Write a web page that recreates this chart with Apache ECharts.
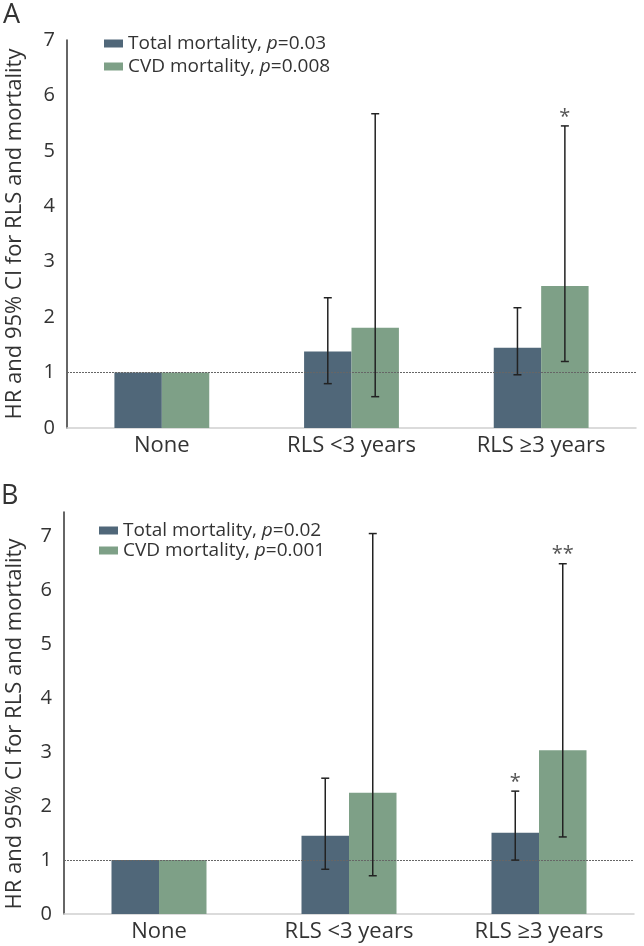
<!DOCTYPE html>
<html>
<head>
<meta charset="utf-8">
<script src="https://cdn.jsdelivr.net/npm/echarts@6/dist/echarts.min.js"></script>
<style>
html,body{margin:0;padding:0;background:#fff;}
#chart{width:644px;height:946px;}
</style>
</head>
<body>
<div id="chart"></div>
<script>
// ---------- data ----------
const categories = ['None', 'RLS <3 years', 'RLS \u22653 years'];
const yTicks = [0, 1, 2, 3, 4, 5, 6, 7];

const namesA = ['Total mortality, p=0.03', 'CVD mortality, p=0.008'];
const hrTotalA = [1, 1.38, 1.45];
const hrCvdA = [1, 1.81, 2.56];
const ciLowTotalA = [null, 0.80, 0.96];
const ciHighTotalA = [null, 2.35, 2.17];
const ciLowCvdA = [null, 0.565, 1.20];
const ciHighCvdA = [null, 5.67, 5.45];
const starsTotalA = ['', '', ''];
const starsCvdA = ['', '', '*'];

const namesB = ['Total mortality, p=0.02', 'CVD mortality, p=0.001'];
const hrTotalB = [1, 1.45, 1.51];
const hrCvdB = [1, 2.25, 3.04];
const ciLowTotalB = [null, 0.83, 1.00];
const ciHighTotalB = [null, 2.52, 2.28];
const ciLowCvdB = [null, 0.71, 1.43];
const ciHighCvdB = [null, 7.06, 6.50];
const starsTotalB = ['', '', '*'];
const starsCvdB = ['', '', '**'];

const refLine = 1;
const yTitle = 'HR and 95% CI for RLS and mortality';

// ---------- styles ----------
const FONT = 'Open Sans';
const TXT = '#333';
const C_TOTAL = '#506779';
const C_CVD = '#7ea087';

function ciData(lows, highs, stars) {
  const out = [];
  for (let i = 0; i < categories.length; i++) {
    if (lows[i] != null && highs[i] != null) out.push([i, lows[i], highs[i], stars[i]]);
  }
  return out;
}

function errRender(sign) {
  return function (params, api) {
    const cat = api.value(0);
    const lo = api.value(1), hi = api.value(2);
    const star = api.value(3);
    const band = api.size([1, 0])[0];
    const x = api.coord([cat, 0])[0] + sign * band * 0.125;
    const yl = api.coord([cat, lo])[1];
    const yh = api.coord([cat, hi])[1];
    const st = { stroke: '#222', lineWidth: 1.5 };
    const cw = 4;
    const children = [
      { type: 'line', shape: { x1: x, y1: yl, x2: x, y2: yh }, style: st },
      { type: 'line', shape: { x1: x - cw, y1: yh, x2: x + cw, y2: yh }, style: st },
      { type: 'line', shape: { x1: x - cw, y1: yl, x2: x + cw, y2: yl }, style: st }
    ];
    if (star) {
      children.push({
        type: 'text',
        style: {
          text: star, x: x, y: yh + 1, textAlign: 'center', textVerticalAlign: 'bottom',
          font: '20px "' + FONT + '"', fill: '#555'
        }
      });
    }
    return { type: 'group', children: children };
  };
}

function legendFmt(name) {
  const parts = name.split(', p');
  return '{n|' + parts[0] + ', }{i|p}{n|' + parts[1] + '}';
}

const legendRich = {
  n: { fontFamily: FONT, fontSize: 19, color: TXT, lineHeight: 20 },
  i: { fontFamily: FONT, fontSize: 19, color: TXT, fontStyle: 'italic', lineHeight: 20 }
};

function xAxisCfg(gi) {
  return {
    type: 'category', gridIndex: gi, data: categories, boundaryGap: true,
    axisLine: { lineStyle: { color: '#d0d0d0', width: 1.5 } },
    axisTick: { show: false },
    axisLabel: { fontFamily: FONT, fontSize: 22, color: TXT, margin: 7 }
  };
}
function yAxisCfg(gi, max) {
  return {
    type: 'value', gridIndex: gi, min: yTicks[0], max: max, interval: 1,
    axisLine: { show: true, lineStyle: { color: '#333', width: 1.5 } },
    axisTick: { show: false },
    splitLine: { show: false },
    axisLabel: { fontFamily: FONT, fontSize: 20, color: TXT, margin: 12, showMaxLabel: max === yTicks[yTicks.length - 1],
      formatter: function (v) { return yTicks.indexOf(v) >= 0 ? String(v) : ''; } }
  };
}

function barSeries(name, data, color, gi, withRef) {
  const s = {
    type: 'bar', name: name, data: data, xAxisIndex: gi, yAxisIndex: gi,
    barGap: '0%', barCategoryGap: '50%',
    itemStyle: { color: color }, z: 2
  };
  if (withRef) {
    s.markLine = {
      silent: true, symbol: 'none', label: { show: false },
      lineStyle: { color: '#666', type: [2, 1], width: 1 },
      data: [{ yAxis: refLine }], z: 5
    };
  }
  return s;
}
function errSeries(gi, sign, data) {
  return {
    type: 'custom', xAxisIndex: gi, yAxisIndex: gi, data: data,
    renderItem: errRender(sign), z: 10, silent: true
  };
}

const chart = echarts.init(document.getElementById('chart'), null, { renderer: 'canvas' });
chart.setOption({
  backgroundColor: '#fff',
  animation: false,
  grid: [
    { left: 67, right: 8, top: 40, height: 388 },
    { left: 64, right: 10, top: 512, height: 402 }
  ],
  xAxis: [xAxisCfg(0), xAxisCfg(1)],
  yAxis: [yAxisCfg(0, 7), yAxisCfg(1, 7.46)],
  legend: [
    { data: namesA, orient: 'vertical', left: 99, top: 29, itemWidth: 19, itemHeight: 8, itemGap: 4, icon: 'rect',
      formatter: legendFmt, textStyle: { rich: legendRich }, selectedMode: false },
    { data: namesB, orient: 'vertical', left: 94, top: 516, itemWidth: 19, itemHeight: 8, itemGap: 1, icon: 'rect',
      formatter: legendFmt, textStyle: { rich: legendRich }, selectedMode: false }
  ],
  graphic: [
    { type: 'text', left: 3, top: 2, style: { text: 'A', font: '27px "' + FONT + '"', fill: TXT } },
    { type: 'text', left: 1, top: 483, style: { text: 'B', font: '27px "' + FONT + '"', fill: TXT } },
    { type: 'text', x: 15, y: 234, rotation: Math.PI / 2,
      style: { text: yTitle, font: '22px "' + FONT + '"', fill: TXT, textAlign: 'center', textVerticalAlign: 'middle' } },
    { type: 'text', x: 15, y: 724, rotation: Math.PI / 2,
      style: { text: yTitle, font: '22px "' + FONT + '"', fill: TXT, textAlign: 'center', textVerticalAlign: 'middle' } }
  ],
  series: [
    barSeries(namesA[0], hrTotalA, C_TOTAL, 0, true),
    barSeries(namesA[1], hrCvdA, C_CVD, 0, false),
    errSeries(0, -1, ciData(ciLowTotalA, ciHighTotalA, starsTotalA)),
    errSeries(0, 1, ciData(ciLowCvdA, ciHighCvdA, starsCvdA)),
    barSeries(namesB[0], hrTotalB, C_TOTAL, 1, true),
    barSeries(namesB[1], hrCvdB, C_CVD, 1, false),
    errSeries(1, -1, ciData(ciLowTotalB, ciHighTotalB, starsTotalB)),
    errSeries(1, 1, ciData(ciLowCvdB, ciHighCvdB, starsCvdB))
  ]
});
</script>
</body>
</html>
